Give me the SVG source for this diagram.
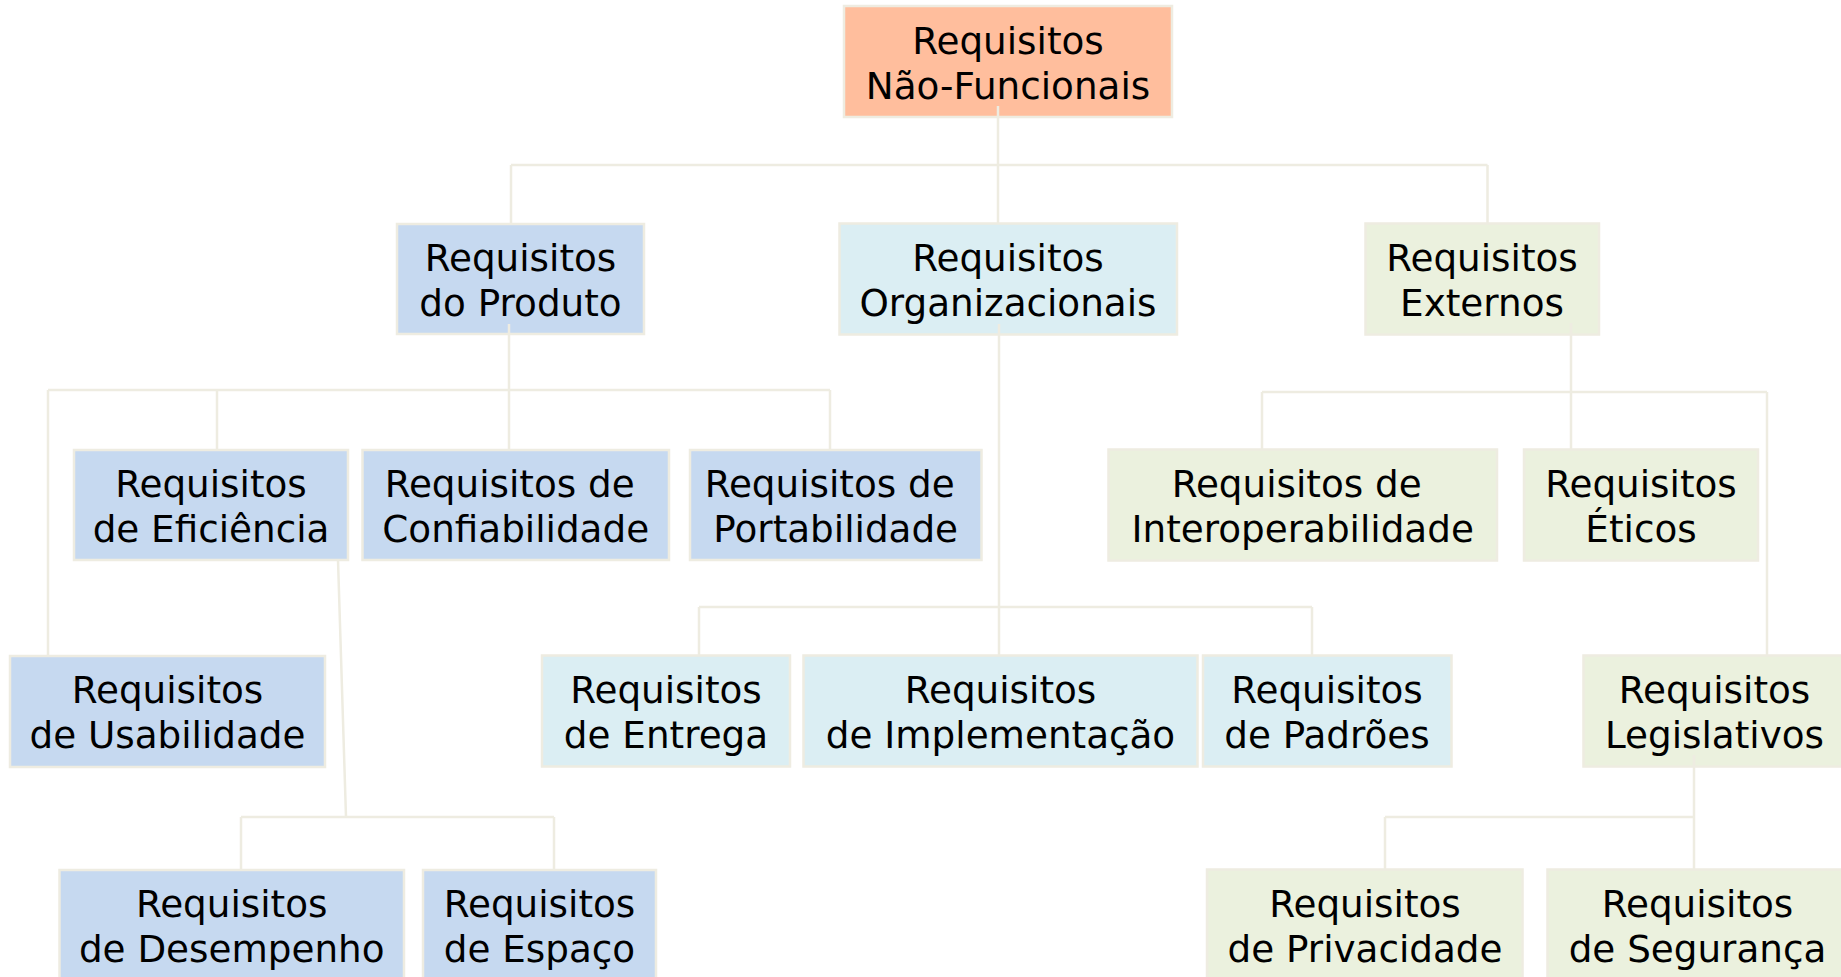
<svg xmlns="http://www.w3.org/2000/svg" width="1841" height="977" viewBox="0 0 1841 977">
<style>
.n rect{stroke:#EEECE1;stroke-width:2.5}
.r{fill:#FFBE9D}
.p{fill:#C6D9F0}
.o{fill:#DBEEF3}
.e{fill:#EBF1DE}
text{font-family:"DejaVu Sans","Liberation Sans",sans-serif;font-size:37.3px;fill:#000;text-anchor:middle}
#connectors{stroke:#EEECE1;stroke-width:2.5;fill:none}
</style>
<rect x="0" y="0" width="1841" height="977" fill="#FFFFFF"/>
<g id="root" class="n"><rect class="r" x="844" y="6" width="328" height="111"/><text x="1008" y="53.5">Requisitos</text><text x="1008" y="98.5">Não-Funcionais</text></g>
<g id="produto" class="n"><rect class="p" x="397" y="224" width="247" height="110"/><text x="520.5" y="271">Requisitos</text><text x="520.5" y="316">do Produto</text></g>
<g id="organizacionais" class="n"><rect class="o" x="839.5" y="223.5" width="337.5" height="111"/><text x="1008" y="271">Requisitos</text><text x="1008" y="316">Organizacionais</text></g>
<g id="externos" class="n"><rect class="e" x="1365.5" y="223.5" width="233.5" height="111"/><text x="1482" y="271">Requisitos</text><text x="1482" y="316">Externos</text></g>
<g id="eficiencia" class="n"><rect class="p" x="74" y="450" width="274" height="110"/><text x="211" y="497">Requisitos</text><text x="211" y="542">de Eficiência</text></g>
<g id="confiabilidade" class="n"><rect class="p" x="362.5" y="450" width="306.5" height="110"/><text x="509.7" y="497">Requisitos de</text><text x="515.7" y="542">Confiabilidade</text></g>
<g id="portabilidade" class="n"><rect class="p" x="690" y="450" width="291.5" height="110"/><text x="829.7" y="497">Requisitos de</text><text x="835.7" y="542">Portabilidade</text></g>
<g id="interoperabilidade" class="n"><rect class="e" x="1108.5" y="449.5" width="388.5" height="111"/><text x="1296.7" y="497">Requisitos de</text><text x="1302.7" y="542">Interoperabilidade</text></g>
<g id="eticos" class="n"><rect class="e" x="1524" y="449.5" width="234" height="111"/><text x="1641" y="497">Requisitos</text><text x="1641" y="542">Éticos</text></g>
<g id="usabilidade" class="n"><rect class="p" x="10" y="656" width="315" height="111"/><text x="167.5" y="703">Requisitos</text><text x="167.5" y="748">de Usabilidade</text></g>
<g id="entrega" class="n"><rect class="o" x="542" y="655.5" width="248" height="111"/><text x="666" y="703">Requisitos</text><text x="666" y="748">de Entrega</text></g>
<g id="implementacao" class="n"><rect class="o" x="803.5" y="655.5" width="394" height="111"/><text x="1000.5" y="703">Requisitos</text><text x="1000.5" y="748">de Implementação</text></g>
<g id="padroes" class="n"><rect class="o" x="1203" y="655.5" width="248.5" height="111"/><text x="1327" y="703">Requisitos</text><text x="1327" y="748">de Padrões</text></g>
<g id="legislativos" class="n"><rect class="e" x="1583.5" y="655.5" width="262" height="111"/><text x="1714.5" y="703">Requisitos</text><text x="1714.5" y="748">Legislativos</text></g>
<g id="desempenho" class="n"><rect class="p" x="59.5" y="870" width="344.5" height="115"/><text x="231.7" y="917">Requisitos</text><text x="231.7" y="962">de Desempenho</text></g>
<g id="espaco" class="n"><rect class="p" x="423" y="870" width="233" height="115"/><text x="539.5" y="917">Requisitos</text><text x="539.5" y="962">de Espaço</text></g>
<g id="privacidade" class="n"><rect class="e" x="1207" y="869.5" width="315.5" height="115"/><text x="1365" y="917">Requisitos</text><text x="1365" y="962">de Privacidade</text></g>
<g id="seguranca" class="n"><rect class="e" x="1547.5" y="869.5" width="300" height="115"/><text x="1697.5" y="917">Requisitos</text><text x="1697.5" y="962">de Segurança</text></g>
<g id="connectors">
<path d="M998 106V223.5M511 165H1487.5M511 165V224M1487.5 165V223.5"/>
<path d="M509 324V450M48 390H830M48 390V656M217 390V450M830 390V450"/>
<path d="M999 324V655.5M699 607H1312M699 607V655.5M1312 607V655.5"/>
<path d="M1571 323V449.5M1262 392H1767M1262 392V449.5M1767 392V655.5"/>
<path d="M338 560L346 817M241 817H554M241 817V870M554 817V870"/>
<path d="M1694 755V869.5M1385 817H1694M1385 817V869.5"/>
</g>
</svg>
